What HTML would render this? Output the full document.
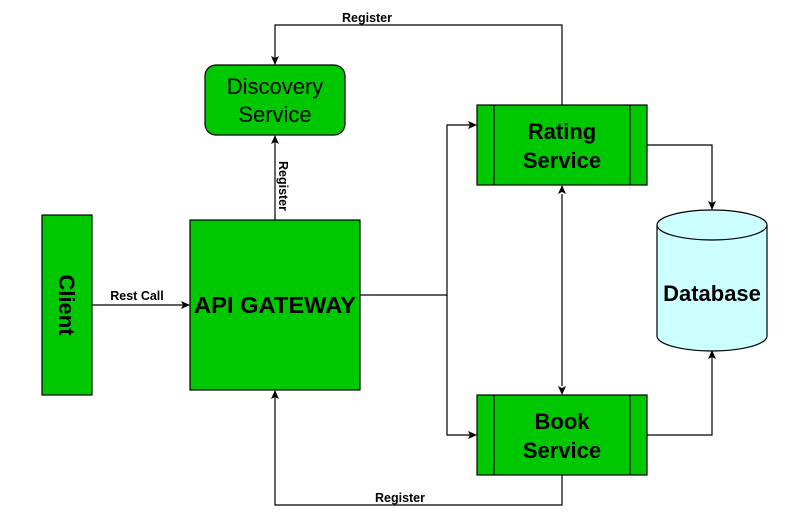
<!DOCTYPE html>
<html><head><style>body{margin:0;background:#fff}svg{display:block}text{font-family:"Liberation Sans",Arial,sans-serif}</style></head><body>
<svg width="808" height="519" viewBox="0 0 808 519" xmlns="http://www.w3.org/2000/svg">
<defs><marker id="a" markerWidth="10" markerHeight="10" refX="8" refY="5" orient="auto" markerUnits="userSpaceOnUse"><path d="M0,1 L9,5 L0,9 L2,5 Z" fill="#000"/></marker></defs>
<g fill="none" stroke="#000" stroke-width="1.2">
<path d="M562,105 V25 H275 V64" marker-end="url(#a)"/>
<path d="M275,220 V136" marker-end="url(#a)"/>
<path d="M92,305 H189" marker-end="url(#a)"/>
<path d="M360,295 H447 V125 H476" marker-end="url(#a)"/>
<path d="M447,295 V435 H476" marker-end="url(#a)"/>
<path d="M562,194 V386"/>
<path d="M562,190 V186" marker-end="url(#a)"/>
<path d="M562,390 V394" marker-end="url(#a)"/>
<path d="M647,145 H712 V209" marker-end="url(#a)"/>
<path d="M647,435 H712 V351" marker-end="url(#a)"/>
<path d="M562,475 V505 H275 V391" marker-end="url(#a)"/>
</g>
<rect x="205" y="65" width="140" height="70" rx="11" fill="#00c800" stroke="#000" stroke-width="1.2"/>
<text x="275" y="94" font-size="22" text-anchor="middle">Discovery</text>
<text x="275" y="122" font-size="22" text-anchor="middle">Service</text>
<rect x="42" y="215" width="50" height="180" fill="#00c800" stroke="#000" stroke-width="1.2"/>
<text transform="translate(59,305) rotate(90)" font-size="22" font-weight="bold" text-anchor="middle">Client</text>
<rect x="190" y="220" width="170" height="170" fill="#00c800" stroke="#000" stroke-width="1.2"/>
<text x="275" y="313" font-size="23" font-weight="bold" text-anchor="middle" textLength="162" lengthAdjust="spacingAndGlyphs">API GATEWAY</text>
<rect x="477" y="105" width="170" height="80" fill="#00c800" stroke="#000" stroke-width="1.2"/>
<path d="M494,105V185M630,105V185" stroke="#000" stroke-width="1.2"/>
<text x="562" y="139" font-size="22" font-weight="bold" text-anchor="middle">Rating</text>
<text x="562" y="168" font-size="22" font-weight="bold" text-anchor="middle">Service</text>
<rect x="477" y="395" width="170" height="80" fill="#00c800" stroke="#000" stroke-width="1.2"/>
<path d="M494,395V475M630,395V475" stroke="#000" stroke-width="1.2"/>
<text x="562" y="429" font-size="22" font-weight="bold" text-anchor="middle">Book</text>
<text x="562" y="458" font-size="22" font-weight="bold" text-anchor="middle">Service</text>
<path d="M657,225 A55,15 0 0 1 767,225 V336 A55,15 0 0 1 657,336 Z" fill="#ccffff" stroke="#000" stroke-width="1.2"/>
<path d="M657,225 A55,15 0 0 0 767,225" fill="none" stroke="#000" stroke-width="1.2"/>
<text x="712" y="301" font-size="22" font-weight="bold" text-anchor="middle">Database</text>
<text x="137" y="300" font-size="12.5" font-weight="bold" text-anchor="middle">Rest Call</text>
<text x="367" y="22" font-size="12.5" font-weight="bold" text-anchor="middle">Register</text>
<text x="400" y="502" font-size="12.5" font-weight="bold" text-anchor="middle">Register</text>
<text transform="translate(279,186) rotate(90)" font-size="12.5" font-weight="bold" text-anchor="middle">Register</text>
</svg>
</body></html>
